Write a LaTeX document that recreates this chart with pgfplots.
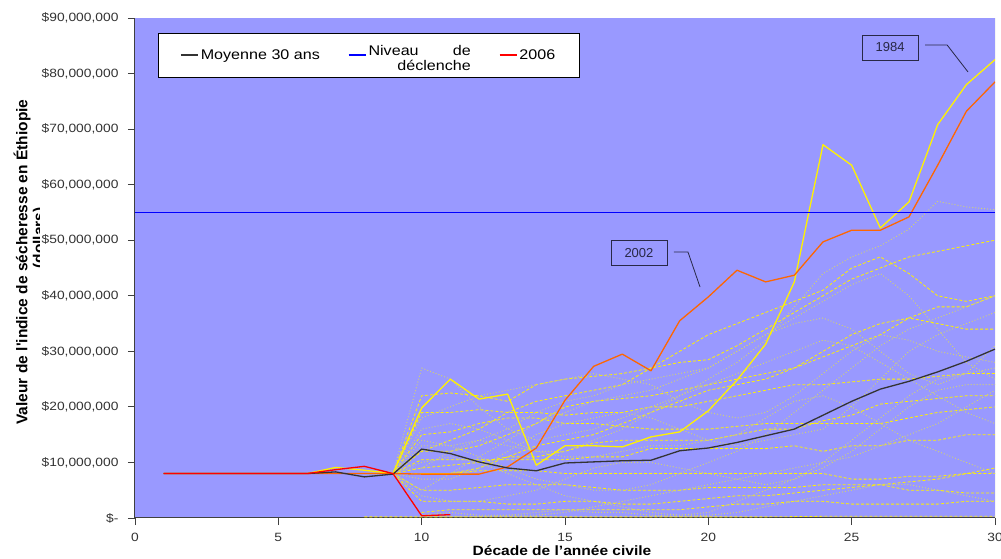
\documentclass[border=0pt]{standalone}
\usepackage{pgfplots}
\pgfplotsset{compat=1.18}
\usetikzlibrary{calc}
\usepackage{fontspec}
\setmainfont{Liberation Sans}[FakeStretch=1.15]
\newfontfamily\plainsans{Liberation Sans}
\definecolor{bgc}{HTML}{9999FF}
\definecolor{khaki}{RGB}{210,210,115}
\definecolor{orng}{RGB}{255,102,0}
\definecolor{meanc}{HTML}{333333}
\definecolor{axc}{HTML}{404040}
\definecolor{annc}{RGB}{40,40,70}
\begin{document}
\begin{tikzpicture}
\begin{axis}[name=ax, scale only axis, width=860pt, height=500pt,
  xmin=0, xmax=30, ymin=0, ymax=90,
  axis background/.style={fill=bgc},
  axis x line*=bottom, axis y line*=left,
  axis line style={axc, line width=1pt},
  xtick={0,5,...,30}, ytick={0,10,...,90},
  /pgf/number format/assume math mode=true,
  yticklabels={\$-\hspace{0.9em}, {\$10,000,000}, {\$20,000,000}, {\$30,000,000}, {\$40,000,000}, {\$50,000,000}, {\$60,000,000}, {\$70,000,000}, {\$80,000,000}, {\$90,000,000}},
  tick align=outside, major tick length=7pt, tick style={axc, line width=0.8pt},
  ticklabel style={font=\fontsize{12}{14}\selectfont, text=black!80},
  xticklabel style={yshift=-5pt},
  yticklabel style={xshift=-6pt},
  xlabel={\bfseries D\'ecade de l'ann\'ee civile},
  xlabel style={font=\fontsize{13.5}{15}\selectfont, at={(axis description cs:0.4965,-0.066)}, anchor=center},
  ylabel={\plainsans\bfseries Valeur de l'indice de s\'echeresse en \'Ethiopie},
  ylabel style={font=\fontsize{15.5}{17}\selectfont, at={(axis description cs:-0.1314,0.512)}, anchor=center},
  legend style={at={(axis description cs:0.0267,0.97)}, anchor=north west, draw=black, fill=white,
    font=\fontsize{14}{15}\selectfont, inner xsep=22pt, inner ysep=10pt,
    /tikz/every even column/.append style={column sep=26pt}},
  legend columns=3, legend cell align=left,
  every axis plot/.append style={line join=round},
]
\pgfplotsset{ydash/.style={yellow, line width=0.8pt, dash pattern=on 3pt off 2pt, forget plot},
             kdot/.style={khaki, line width=0.9pt, dash pattern=on 1pt off 2pt, forget plot}}
% background simulated years: yellow dashed
\addplot[ydash] coordinates {(8,8)(9,8)(10,19)(11,19)(12,19.5)(13,19)(14,19)(15,18.5)(16,19)(17,19)(18,20)(19,20)(20,21)(21,22)(22,23)(23,24)(24,24)(25,24.5)(26,25)(27,25)(28,25.5)(29,26)(30,26)};
\addplot[ydash] coordinates {(8,8)(9,8)(10,10.5)(11,10.5)(12,10.5)(13,10.5)(14,10.5)(15,10.5)(16,11)(17,11)(18,12.5)(19,12.5)(20,12.5)(21,12.5)(22,12.5)(23,13)(24,12)(25,13)(26,13)(27,14)(28,14)(29,15)(30,15)};
\addplot[ydash] coordinates {(8,8)(9,8)(10,3)(11,3)(12,3)(13,2.5)(14,2.5)(15,3)(16,3)(17,2.5)(18,2.5)(19,3)(20,3.5)(21,4)(22,4)(23,4.5)(24,5)(25,5.5)(26,6)(27,5)(28,5)(29,4.5)(30,4.5)};
\addplot[ydash] coordinates {(8,8)(9,8)(10,22)(11,22.5)(12,22)(13,21)(14,24)(15,25)(16,25.5)(17,26)(18,27)(19,28)(20,28.5)(21,31)(22,34)(23,37)(24,40)(25,43)(26,45)(27,47)(28,48)(29,49)(30,50)};
\addplot[ydash] coordinates {(8,0.2)(10,0.2)(12,0.2)(14,0.2)(16,0.2)(18,0.2)(20,0.2)(22,0.2)(24,0.3)(26,0.3)(28,0.3)(30,0.3)};
\addplot[ydash] coordinates {(8,8)(9,8)(10,8)(11,8)(12,8.5)(13,8.5)(14,8.5)(15,8)(16,8)(17,8)(18,8)(19,8)(20,8)(21,8)(22,8)(23,8)(24,8)(25,7)(26,7)(27,7.5)(28,7.5)(29,8)(30,8)};
\addplot[ydash] coordinates {(9,8)(10,15)(11,15.5)(12,17)(13,18)(14,18)(15,17)(16,17)(17,16.5)(18,16)(19,16)(20,16)(21,16.5)(22,17)(23,17)(24,17)(25,17)(26,17)(27,18)(28,19)(29,19.5)(30,20)};
\addplot[ydash] coordinates {(9,8)(10,5)(11,5)(12,5.5)(13,6)(14,6)(15,6)(16,5.5)(17,5)(18,5)(19,5)(20,5.5)(21,5.5)(22,5.5)(23,5.5)(24,6)(25,6)(26,6)(27,6.5)(28,7)(29,8)(30,9)};
\addplot[ydash] coordinates {(9,8)(10,12)(11,12)(12,13)(13,15)(14,17)(15,20)(16,21)(17,21.5)(18,22)(19,23)(20,24)(21,25)(22,26)(23,27)(24,30)(25,33)(26,35)(27,36)(28,35)(29,34)(30,34)};
\addplot[ydash] coordinates {(9,8)(10,9)(11,9.5)(12,10)(13,11)(14,11)(15,12)(16,13.5)(17,14)(18,14)(19,14)(20,14)(21,15)(22,16)(23,16)(24,17.5)(25,18.5)(26,20.5)(27,21)(28,21.5)(29,22)(30,22)};
\addplot[ydash] coordinates {(10,1)(11,1.5)(12,1.5)(13,1.5)(14,1.5)(15,1.5)(16,1.5)(17,1.5)(18,1.5)(19,1.5)(20,2)(21,2.5)(22,2.5)(23,3)(24,3)(25,2.5)(26,2.5)(27,2.5)(28,2.5)(29,3)(30,3)};
\addplot[ydash] coordinates {(10,8)(11,8)(12,9)(13,11)(14,13)(15,14)(16,15)(17,17)(18,19)(19,21)(20,23)(21,24)(22,25)(23,27)(24,29)(25,31)(26,33)(27,36)(28,38)(29,38)(30,40)};
\addplot[ydash] coordinates {(9,8)(10,12)(11,14)(12,16)(13,19)(14,21)(15,22)(16,23)(17,24)(18,27)(19,30)(20,33)(21,35)(22,37)(23,39)(24,41)(25,45)(26,47)(27,44)(28,40)(29,39)(30,40)};
% background simulated years: khaki dotted
\addplot[kdot] coordinates {(8,8)(9,8)(10,27)(11,25)(12,20)(13,16)(14,14)(15,15)(16,16)(17,18)(18,20)(19,22)(20,25)(21,28)(22,32)(23,38)(24,44)(25,47)(26,49)(27,52)(28,57)(29,56)(30,55.5)};
\addplot[kdot] coordinates {(8,8)(9,8)(10,5)(11,8)(12,11)(13,14)(14,17)(15,19)(16,21)(17,22)(18,23)(19,25)(20,27)(21,30)(22,33)(23,36)(24,39)(25,42)(26,44)(27,40)(28,34)(29,28)(30,25)};
\addplot[kdot] coordinates {(8,8)(9,8)(10,14)(11,13)(12,11)(13,9)(14,7)(15,6)(16,5)(17,5)(18,6)(19,8)(20,10)(21,12)(22,15)(23,19)(24,23)(25,27)(26,31)(27,34)(28,36)(29,38)(30,40)};
\addplot[kdot] coordinates {(8,8)(9,8)(10,7)(11,7)(12,9)(13,12)(14,15)(15,17)(16,18)(17,19)(18,18)(19,16)(20,14)(21,13)(22,14)(23,15)(24,16)(25,20)(26,25)(27,30)(28,33)(29,35)(30,37)};
\addplot[kdot] coordinates {(9,8)(10,0.5)(11,1)(12,0.5)(13,0.5)(14,0.5)(15,1)(16,2)(17,3)(18,4)(19,5)(20,6)(21,7)(22,8)(23,9)(24,10)(25,11)(26,13)(27,15)(28,17)(29,20)(30,23)};
\addplot[kdot] coordinates {(9,8)(10,18)(11,20)(12,22)(13,23)(14,24)(15,25)(16,26)(17,25)(18,24)(19,21)(20,19)(21,18)(22,19)(23,22)(24,26)(25,30)(26,33)(27,32)(28,30)(29,29)(30,28)};
\addplot[kdot] coordinates {(9,8)(10,10)(11,11)(12,10)(13,8)(14,6)(15,4)(16,3)(17,2)(18,1)(19,0.5)(20,1)(21,3)(22,5)(23,7)(24,10)(25,14)(26,18)(27,22)(28,25)(29,26)(30,27)};
\addplot[kdot] coordinates {(9,8)(10,16)(11,17)(12,16)(13,14)(14,12)(15,11)(16,11)(17,12)(18,13)(19,13)(20,14)(21,15)(22,18)(23,21)(24,22)(25,20)(26,17)(27,14)(28,12)(29,10)(30,8)};
\addplot[kdot] coordinates {(9,8)(10,4)(11,3)(12,3)(13,4)(14,5)(15,7)(16,9)(17,10)(18,10)(19,9)(20,8)(21,7)(22,6)(23,7)(24,9)(25,12)(26,16)(27,20)(28,23)(29,24)(30,24)};
\addplot[kdot] coordinates {(8,8)(9,8.5)(10,9)(11,12)(12,14)(13,16)(14,19)(15,21)(16,22)(17,24)(18,25)(19,26)(20,27)(21,30)(22,33)(23,35)(24,36)(25,34)(26,30)(27,26)(28,24)(29,26)(30,31)};
\addplot[kdot] coordinates {(10,0.3)(11,0.3)(12,0.3)(13,0.5)(14,1)(15,1.5)(16,1)(17,1)(18,0.5)(19,0.3)(20,0.5)(21,1)(22,2)(23,3)(24,4)(25,5)(26,6)(27,6)(28,5)(29,4)(30,3)};
\addplot[kdot] coordinates {(9,8)(10,13)(11,13)(12,14)(13,13)(14,12)(15,12)(16,14)(17,16)(18,19)(19,22)(20,24)(21,26)(22,28)(23,30)(24,32)(25,31)(26,28)(27,25)(28,22)(29,19)(30,17)};
% 1984 and 2002
\addplot[yellow, line width=1.3pt, forget plot] coordinates {(1,8)(2,8)(3,8)(4,8)(5,8)(6,8)(7,9.1)(8,8.6)(9,8)(10,19.8)(11,25)(12,21.4)(13,22.3)(14,9.5)(15,13)(16,13)(17,12.8)(18,14.6)(19,15.5)(20,19.3)(21,24.8)(22,31.3)(23,42.5)(24,67.2)(25,63.5)(26,52.2)(27,56.9)(28,70.8)(29,78)(30,82.5)};
\addplot[orng, line width=1.3pt, forget plot] coordinates {(1,8)(2,8)(3,8)(4,8)(5,8)(6,8)(7,8)(8,8)(9,8)(10,7.9)(11,7.9)(12,7.9)(13,9.2)(14,12.6)(15,21.2)(16,27.3)(17,29.5)(18,26.5)(19,35.5)(20,39.8)(21,44.6)(22,42.5)(23,43.7)(24,49.7)(25,51.8)(26,51.8)(27,54.2)(28,63.5)(29,73.2)(30,78.5)};
% 30-year mean
\addplot[meanc, line width=1.3pt, forget plot] coordinates {(1,8)(2,8)(3,8)(4,8)(5,8)(6,8)(7,8.3)(8,7.4)(9,7.9)(10,12.4)(11,11.6)(12,10.1)(13,9)(14,8.5)(15,9.9)(16,10.1)(17,10.3)(18,10.4)(19,12.1)(20,12.6)(21,13.6)(22,14.8)(23,16)(24,18.5)(25,21)(26,23.2)(27,24.6)(28,26.3)(29,28.2)(30,30.4)};
% trigger level
\addplot[blue, line width=1.3pt, forget plot] coordinates {(0,55)(30,55)};
% 2006
\addplot[red, line width=1.3pt, forget plot] coordinates {(1,8)(2,8)(3,8)(4,8)(5,8)(6,8)(7,8.7)(8,9.3)(9,8)(10,0.4)(11,0.6)};
% legend
\addlegendimage{draw=meanc, line width=1.6pt}
\addlegendentry{Moyenne 30 ans}
\addlegendimage{draw=blue, line width=1.6pt}
\addlegendentry{\begin{tabular}{@{}r@{}}\makebox[7.3em][s]{Niveau\hfill de}\\d\'eclenche\end{tabular}}
\addlegendimage{draw=red, line width=1.6pt}
\addlegendentry{2006}
% right border
\draw[gray!60, line width=1pt] (rel axis cs:1,0) -- (rel axis cs:1,1);
% annotations
\node[draw=annc, fill=bgc, line width=0.8pt, minimum width=56pt, minimum height=25pt, inner sep=0pt, font=\plainsans\fontsize{13}{14}\selectfont, text=annc] at (axis cs:26.34,84.7) {1984};
\draw[annc, line width=0.8pt] (axis cs:27.56,85.14) -- (axis cs:28.33,85.14) -- (axis cs:29.06,80.28);
\node[draw=annc, fill=bgc, line width=0.8pt, minimum width=56pt, minimum height=25pt, inner sep=0pt, font=\plainsans\fontsize{13}{14}\selectfont, text=annc] at (axis cs:17.58,47.7) {2002};
\draw[annc, line width=0.8pt] (axis cs:18.80,47.88) -- (axis cs:19.29,47.88) -- (axis cs:19.71,41.58);
\end{axis}
\begin{scope}
\clip ($(ax.south west)+(-135pt,0pt)$) rectangle ($(ax.south west)+(-95pt,500pt)$);
\node[rotate=90, font=\plainsans\bfseries\fontsize{15.5}{17}\selectfont] at ($(ax.south west)+(-95pt,280pt)$) {(dollars)};
\end{scope}
\pgfresetboundingbox
\path ($(ax.south west)+(-135pt,-41pt)$) rectangle ++(1001pt,559pt);
\end{tikzpicture}
\end{document}
